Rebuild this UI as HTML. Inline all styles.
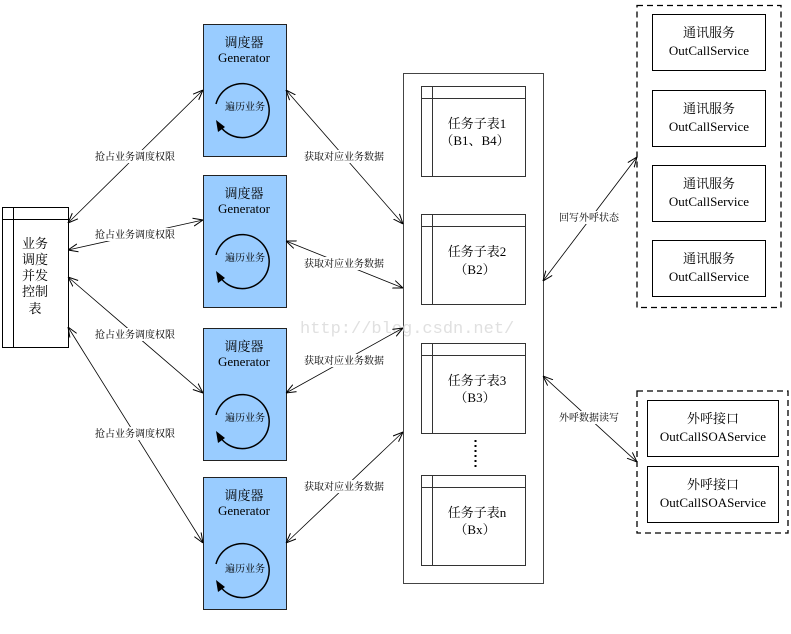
<!DOCTYPE html>
<html><head><meta charset="utf-8"><style>
body{margin:0;background:#fff;}
svg{display:block;font-family:"Liberation Serif","Noto Serif CJK SC",serif;}
.cn{font-family:"Liberation Serif","Noto Serif CJK SC","Noto Sans CJK SC",serif;}
</style></head><body>
<svg width="791" height="634" viewBox="0 0 791 634" xmlns="http://www.w3.org/2000/svg">
<defs>
<marker id="a" viewBox="0 0 10 10" refX="10" refY="5" markerWidth="10" markerHeight="10" orient="auto-start-reverse" markerUnits="userSpaceOnUse">
<polyline points="0,1 10,5 0,9" fill="none" stroke="#000" stroke-width="1"/>
</marker>
</defs>
<rect width="791" height="634" fill="#fff"/>

<rect x="2.5" y="207.5" width="66" height="140" fill="#fff" stroke="#000"/>
<line x1="2.5" y1="219.5" x2="68.5" y2="219.5" stroke="#000"/>
<line x1="13.5" y1="207.5" x2="13.5" y2="347.5" stroke="#000"/>
<g class="cn" font-size="13" text-anchor="middle" fill="#000">
<text x="35" y="248">业务</text><text x="35" y="264">调度</text><text x="35" y="280">并发</text><text x="35" y="296">控制</text><text x="35" y="313">表</text>
</g>

<rect x="203.5" y="24.5" width="83" height="132" fill="#99ccff" stroke="#222"/>
<rect x="203.5" y="175.5" width="83" height="132" fill="#99ccff" stroke="#222"/>
<rect x="203.5" y="328.5" width="83" height="132" fill="#99ccff" stroke="#222"/>
<rect x="203.5" y="477.5" width="83" height="132" fill="#99ccff" stroke="#222"/>
<g font-size="13" text-anchor="middle" fill="#000">
<text class="cn" x="244" y="47">调度器</text><text x="244" y="62">Generator</text>
<text class="cn" x="244" y="198">调度器</text><text x="244" y="213">Generator</text>
<text class="cn" x="244" y="351">调度器</text><text x="244" y="366">Generator</text>
<text class="cn" x="244" y="500">调度器</text><text x="244" y="515">Generator</text>
</g>
<g fill="none" stroke="#000" stroke-width="1.5">
<path d="M216,104 A27,27 0 1 1 220,126"/>
<path d="M216,255 A27,27 0 1 1 220,277"/>
<path d="M216,415 A27,27 0 1 1 220,437"/>
<path d="M216,564 A27,27 0 1 1 220,586"/>
</g>
<g fill="#000">
<polygon points="216,120 225,127 218,132"/>
<polygon points="216,271 225,278 218,283"/>
<polygon points="216,431 225,438 218,443"/>
<polygon points="216,580 225,587 218,592"/>
</g>
<g class="cn" font-size="10" text-anchor="middle" fill="#000">
<text x="245" y="110">遍历业务</text><text x="245" y="261">遍历业务</text><text x="245" y="421">遍历业务</text><text x="245" y="572">遍历业务</text>
</g>

<rect x="403.5" y="73.5" width="140" height="510" fill="#fff" stroke="#444"/>
<g fill="#fff" stroke="#333">
<rect x="421.5" y="86.5" width="104" height="90"/><line x1="421.5" y1="98.5" x2="525.5" y2="98.5"/><line x1="432.5" y1="86.5" x2="432.5" y2="176.5"/>
<rect x="421.5" y="214.5" width="104" height="90"/><line x1="421.5" y1="226.5" x2="525.5" y2="226.5"/><line x1="432.5" y1="214.5" x2="432.5" y2="304.5"/>
<rect x="421.5" y="343.5" width="104" height="90"/><line x1="421.5" y1="355.5" x2="525.5" y2="355.5"/><line x1="432.5" y1="343.5" x2="432.5" y2="433.5"/>
<rect x="421.5" y="475.5" width="104" height="90"/><line x1="421.5" y1="487.5" x2="525.5" y2="487.5"/><line x1="432.5" y1="475.5" x2="432.5" y2="565.5"/>
</g>
<line x1="475.5" y1="440" x2="475.5" y2="468" stroke="#000" stroke-width="2" stroke-dasharray="2,3"/>
<g class="cn" font-size="13" text-anchor="middle" fill="#000">
<text x="477" y="128">任务子表1</text><text x="475" y="145">（B1、B4）</text>
<text x="477" y="256">任务子表2</text><text x="475" y="274">（B2）</text>
<text x="477" y="385">任务子表3</text><text x="475" y="402">（B3）</text>
<text x="477" y="517">任务子表n</text><text x="475" y="534">（Bx）</text>
</g>

<rect x="637" y="5.5" width="144" height="302" fill="none" stroke="#000" stroke-width="1.3" stroke-dasharray="6,4"/>
<rect x="637" y="391" width="151" height="142" fill="none" stroke="#000" stroke-width="1.3" stroke-dasharray="6,4"/>
<g fill="#fff" stroke="#000">
<rect x="652.5" y="14.5" width="113" height="56"/>
<rect x="652.5" y="90.5" width="113" height="56"/>
<rect x="652.5" y="165.5" width="113" height="56"/>
<rect x="652.5" y="240.5" width="113" height="56"/>
<rect x="647.5" y="400.5" width="131" height="56"/>
<rect x="647.5" y="466.5" width="131" height="56"/>
</g>
<g font-size="13" text-anchor="middle" fill="#000">
<text class="cn" x="709" y="37">通讯服务</text><text x="709" y="55">OutCallService</text>
<text class="cn" x="709" y="113">通讯服务</text><text x="709" y="131">OutCallService</text>
<text class="cn" x="709" y="188">通讯服务</text><text x="709" y="206">OutCallService</text>
<text class="cn" x="709" y="263">通讯服务</text><text x="709" y="281">OutCallService</text>
<text class="cn" x="713" y="423">外呼接口</text><text x="713" y="441">OutCallSOAService</text>
<text class="cn" x="713" y="489">外呼接口</text><text x="713" y="507">OutCallSOAService</text>
</g>

<text x="300" y="333" font-family="Liberation Mono,monospace" font-size="17" fill="#e0e0e0">http://blog.csdn.net/</text>

<g stroke="#000" stroke-width="0.8" fill="none" marker-start="url(#a)" marker-end="url(#a)">
<line x1="68" y1="223" x2="203" y2="90"/>
<line x1="68" y1="250" x2="203" y2="220"/>
<line x1="68" y1="277" x2="203" y2="393"/>
<line x1="68" y1="327" x2="203" y2="543"/>
<line x1="286" y1="90" x2="403" y2="224"/>
<line x1="286" y1="241" x2="403" y2="288"/>
<line x1="286" y1="393" x2="403" y2="328"/>
<line x1="286" y1="543" x2="403" y2="432"/>
<line x1="543" y1="281" x2="637" y2="157"/>
<line x1="543" y1="376" x2="637" y2="462"/>
</g>
<g class="cn" font-size="10" text-anchor="middle" fill="#000">
<rect x="92" y="150" width="86" height="13" fill="#fff"/><text x="135" y="160">抢占业务调度权限</text>
<rect x="92" y="228" width="86" height="13" fill="#fff"/><text x="135" y="238">抢占业务调度权限</text>
<rect x="92" y="328" width="86" height="13" fill="#fff"/><text x="135" y="338">抢占业务调度权限</text>
<rect x="92" y="427" width="86" height="13" fill="#fff"/><text x="135" y="437">抢占业务调度权限</text>
<rect x="301" y="150" width="86" height="13" fill="#fff"/><text x="344" y="160">获取对应业务数据</text>
<rect x="301" y="257" width="86" height="13" fill="#fff"/><text x="344" y="267">获取对应业务数据</text>
<rect x="301" y="354" width="86" height="13" fill="#fff"/><text x="344" y="364">获取对应业务数据</text>
<rect x="301" y="480" width="86" height="13" fill="#fff"/><text x="344" y="490">获取对应业务数据</text>
<rect x="556" y="211" width="66" height="13" fill="#fff"/><text x="589" y="221">回写外呼状态</text>
<rect x="556" y="411" width="66" height="13" fill="#fff"/><text x="589" y="421">外呼数据读写</text>
</g>
</svg>
</body></html>
